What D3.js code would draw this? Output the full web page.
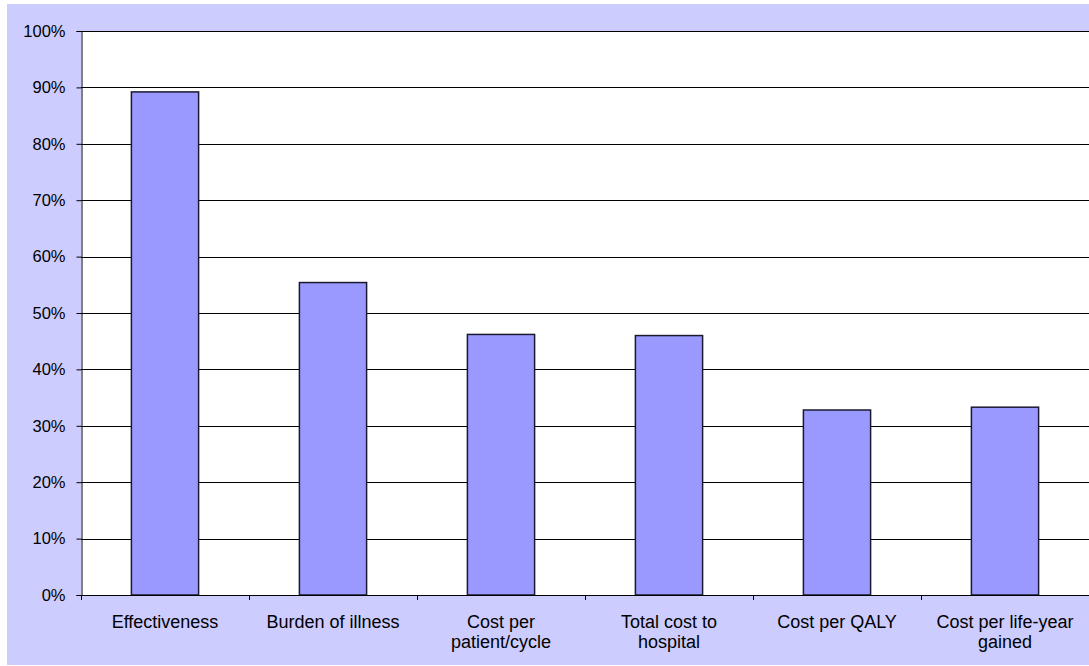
<!DOCTYPE html>
<html>
<head>
<meta charset="utf-8">
<script src="https://cdn.jsdelivr.net/npm/d3@7"></script>
<style>
  html, body { margin: 0; padding: 0; background: #ffffff; }
  svg { display: block; }
  text { font-family: "Liberation Sans", Arial, sans-serif; fill: #000; }
</style>
</head>
<body>
<svg id="chart" width="1089" height="666"></svg>
<script>
// Share of responses per criterion (percent)
const categories = [
  "Effectiveness",
  "Burden of illness",
  "Cost per patient/cycle",
  "Total cost to hospital",
  "Cost per QALY",
  "Cost per life-year gained"
];
const values = [89.2, 55.4, 46.2, 46.0, 32.8, 33.3];
const yTicks = [0, 10, 20, 30, 40, 50, 60, 70, 80, 90, 100];

const W = 1089, H = 666;
const plot = { left: 81, right: 1089, top: 31, bottom: 595 };

const svg = d3.select("#chart");

// Lavender chart area and white plotting area
svg.append("rect")
  .attr("x", 7).attr("y", 4)
  .attr("width", W - 7).attr("height", 661)
  .attr("fill", "#ccccff");
svg.append("rect")
  .attr("x", plot.left).attr("y", plot.top)
  .attr("width", plot.right - plot.left).attr("height", plot.bottom - plot.top)
  .attr("fill", "#ffffff");

const x = d3.scaleBand()
  .domain(categories)
  .range([plot.left, plot.right])
  .paddingInner(0.6)
  .paddingOuter(0.3);

const y = d3.scaleLinear()
  .domain([0, 100])
  .range([plot.bottom, plot.top]);

// Horizontal gridlines
svg.append("g")
  .selectAll("line")
  .data(yTicks.filter(d => d > 0))
  .join("line")
  .attr("x1", plot.left)
  .attr("x2", plot.right)
  .attr("y1", d => Math.round(y(d)) + 0.5)
  .attr("y2", d => Math.round(y(d)) + 0.5)
  .attr("stroke", "#000")
  .attr("stroke-width", 1);

// Bars
svg.append("g")
  .selectAll("rect")
  .data(values)
  .join("rect")
  .attr("x", (d, i) => x(categories[i]))
  .attr("y", d => y(d))
  .attr("width", x.bandwidth())
  .attr("height", d => y(0) - y(d))
  .attr("fill", "#9999ff")
  .attr("stroke", "#1a1a2e")
  .attr("stroke-width", 1.5);

// Y axis
const yAxis = d3.axisLeft(y)
  .tickValues(yTicks)
  .tickFormat(d => d + "%")
  .tickSize(5)
  .tickPadding(11);
const gy = svg.append("g")
  .attr("transform", `translate(${plot.left + 0.5},0)`)
  .call(yAxis);
gy.select(".domain").attr("stroke", "#000");
gy.selectAll(".tick line").attr("stroke", "#000");
gy.selectAll(".tick text")
  .attr("font-size", 16.5)
  .attr("font-family", "Liberation Sans, Arial, sans-serif")
  .attr("fill", "#000");

// X axis: ticks on category boundaries
const boundaries = d3.range(categories.length + 1).map(i => plot.left + i * (plot.right - plot.left) / categories.length);
svg.append("line")
  .attr("x1", plot.left).attr("x2", plot.right)
  .attr("y1", plot.bottom + 0.5).attr("y2", plot.bottom + 0.5)
  .attr("stroke", "#000");
svg.append("g")
  .selectAll("line")
  .data(boundaries)
  .join("line")
  .attr("x1", d => Math.round(d) + 0.5)
  .attr("x2", d => Math.round(d) + 0.5)
  .attr("y1", plot.bottom)
  .attr("y2", plot.bottom + 5)
  .attr("stroke", "#000");

// Category labels, wrapped to the band width
const fontSize = 18;
const lineH = 19.5;
const maxW = 150;
const labels = svg.append("g");
categories.forEach((c, i) => {
  const cx = x(c) + x.bandwidth() / 2;
  const t = labels.append("text")
    .attr("x", cx)
    .attr("y", 628)
    .attr("text-anchor", "middle")
    .attr("font-size", fontSize);
  const words = c.split(" ");
  let line = [];
  let tspan = t.append("tspan").attr("x", cx).attr("dy", 0);
  words.forEach(w => {
    line.push(w);
    tspan.text(line.join(" "));
    if (tspan.node().getComputedTextLength() > maxW && line.length > 1) {
      line.pop();
      tspan.text(line.join(" "));
      line = [w];
      tspan = t.append("tspan").attr("x", cx).attr("dy", lineH).text(w);
    }
  });
});
</script>
</body>
</html>
